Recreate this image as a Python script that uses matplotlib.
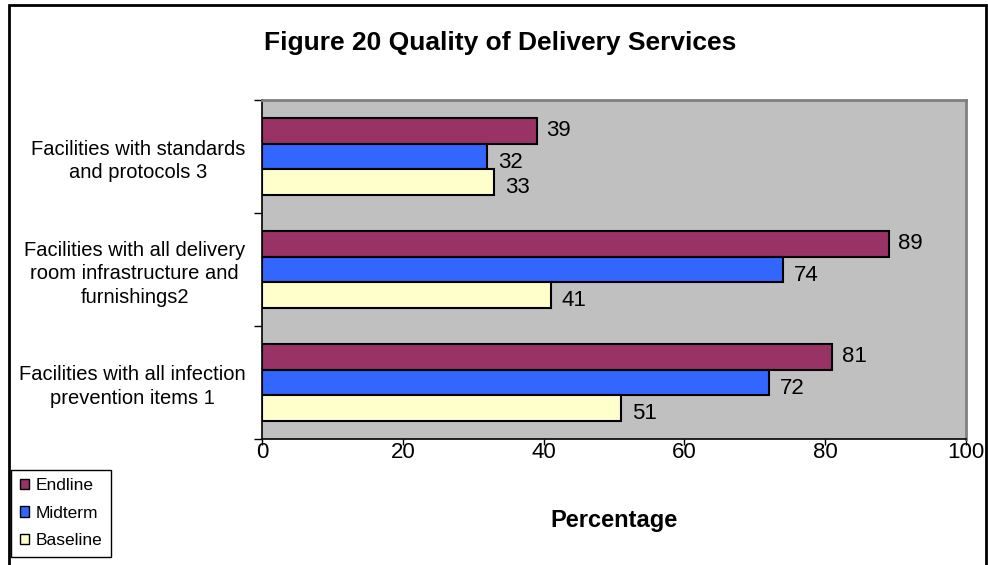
import matplotlib
matplotlib.use("Agg")
import matplotlib.pyplot as plt
from matplotlib.patches import Patch, Rectangle
import numpy as np

plt.rcParams['font.family'] = ['Liberation Sans', 'DejaVu Sans']

categories = ["Facilities with all infection\nprevention items 1",
              "Facilities with all delivery\nroom infrastructure and\nfurnishings2",
              "Facilities with standards\nand protocols 3"]
series_names = ["Endline", "Midterm", "Baseline"]
endline = [81, 89, 39]
midterm = [72, 74, 32]
baseline = [51, 41, 33]
colors = ["#993366", "#3366FF", "#FFFFCC"]
x_ticks = [0, 20, 40, 60, 80, 100]

W, H = 988, 565
fig = plt.figure(figsize=(W / 100, H / 100), dpi=100)
L, R, T, B = 262, 966, 100, 439
ax = fig.add_axes([L / W, 1 - B / H, (R - L) / W, (B - T) / H])
ax.set_facecolor("#C0C0C0")

y = np.arange(len(categories))
bh = 0.226
offsets = [bh, 0, -bh]
label_shift = [(7, 0), (8, -4), (8, -4)]
data = [endline, midterm, baseline]
for vals, off, col, (dx, dy) in zip(data, offsets, colors, label_shift):
    ax.barh(y + off, vals, height=bh, color=col, edgecolor="black",
            linewidth=1.5, zorder=3)
    for yy, v in zip(y + off, vals):
        ax.annotate(str(v), (v, yy), xytext=(dx, dy), textcoords="offset points",
                    va="center", ha="left", fontsize=16)

ax.set_xlim(0, 100)
ax.set_ylim(-0.5, 2.5)
ax.set_xticks(x_ticks)
ax.set_xticklabels([str(t) for t in x_ticks], fontsize=16)
ax.tick_params(axis="x", direction="out", length=4, width=1, pad=-2)
ax.set_yticks(y)
ax.set_yticklabels(categories, fontsize=14.5, multialignment="center", linespacing=1.33)
ax.tick_params(axis="y", length=0, pad=12)
ax.set_yticks([-0.5, 0.5, 1.5, 2.5], minor=True)
ax.tick_params(axis="y", which="minor", direction="out", length=6, width=1)

for s in ["left", "bottom"]:
    ax.spines[s].set_color("black")
    ax.spines[s].set_linewidth(1.2)
for s in ["top", "right"]:
    ax.spines[s].set_color("#808080")
    ax.spines[s].set_linewidth(2)

fig.text(614 / W, 1 - 521 / H, "Percentage", ha="center", va="center",
         fontsize=17, fontweight="bold")
fig.text(500 / W, 1 - 43 / H, "Figure 20 Quality of Delivery Services",
         ha="center", va="center", fontsize=19, fontweight="bold")

# outer border
fig.add_artist(Rectangle((9 / W, -0.02), (986 - 9) / W, 1 - 5 / H + 0.02,
                         transform=fig.transFigure, fill=False,
                         edgecolor="black", linewidth=2, clip_on=False))

handles = [Patch(facecolor=c, edgecolor="black", linewidth=1) for c in colors]
leg = fig.legend(handles, series_names, loc="lower left",
                 bbox_to_anchor=(11 / W, 1 - 557 / H), fontsize=12.5,
                 handlelength=0.55, handleheight=0.55, handletextpad=0.35,
                 labelspacing=0.72, borderpad=0.5, fancybox=False,
                 framealpha=1, edgecolor="black", borderaxespad=0)
leg.get_frame().set_linewidth(1)

fig.savefig("out.png", dpi=100)
